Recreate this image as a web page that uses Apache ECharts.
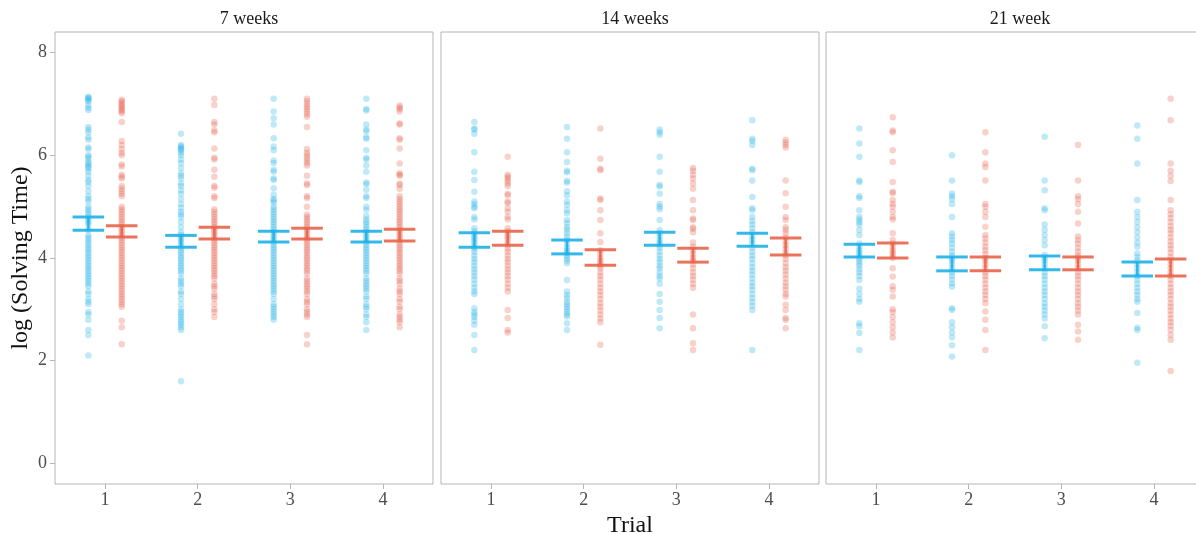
<!DOCTYPE html>
<html>
<head>
<meta charset="utf-8">
<script src="https://cdn.jsdelivr.net/npm/echarts@6/dist/echarts.min.js"></script>
<style>
html,body{margin:0;padding:0;background:#fff;}
#chart{width:1196px;height:534px;}
</style>
</head>
<body>
<div id="chart"></div>
<script>
// ---------- DATA ----------
const panels = ['7 weeks', '14 weeks', '21 week'];
const trials = ['1', '2', '3', '4'];
const yTicks = [0, 2, 4, 6, 8];
const yTitle = 'log (Solving Time)';
const xTitle = 'Trial';

// 7 weeks: individual log solving times (blue group / red group)
const w7_t1_b = [7.14,7.12,7.1,7.08,7.05,6.98,6.92,6.88,6.55,6.5,6.45,6.35,6.3,6.15,6.12,6.0,5.97,5.93,5.87,5.84,5.8,5.77,5.74,5.68,5.6,5.52,5.48,5.4,5.3,5.2,5.15,5.1,5.0,4.95,4.9,4.85,4.8,4.75,4.7,4.65,4.55,4.45,4.4,4.35,4.3,4.25,4.2,4.15,4.1,4.05,4.0,3.95,3.9,3.85,3.8,3.75,3.7,3.65,3.6,3.55,3.5,3.45,3.35,3.3,3.2,3.15,3.1,2.95,2.9,2.8,2.6,2.5,2.1];
const w7_t1_r = [7.08,7.05,7.02,6.98,6.95,6.92,6.88,6.85,6.82,6.65,6.28,6.2,6.12,6.05,6.0,5.82,5.78,5.62,5.58,5.55,5.4,5.35,5.3,5.25,5.2,5.0,4.95,4.9,4.85,4.8,4.75,4.7,4.65,4.6,4.55,4.5,4.45,4.4,4.35,4.3,4.25,4.2,4.15,4.1,4.05,4.0,3.95,3.9,3.85,3.8,3.75,3.7,3.65,3.6,3.55,3.5,3.45,3.4,3.35,3.3,3.25,3.2,3.15,3.1,3.05,2.78,2.65,2.32];
const w7_t2_b = [6.42,6.2,6.17,6.14,6.12,6.1,6.05,6.0,5.92,5.85,5.75,5.65,5.6,5.55,5.45,5.4,5.32,5.25,5.15,5.05,4.98,4.9,4.85,4.8,4.7,4.6,4.5,4.45,4.4,4.35,4.3,4.25,4.2,4.15,4.1,4.05,4.0,3.95,3.9,3.85,3.8,3.75,3.7,3.6,3.55,3.5,3.45,3.35,3.3,3.2,3.1,3.0,2.95,2.9,2.85,2.8,2.75,2.7,2.65,2.6,1.6];
const w7_t2_r = [7.1,6.98,6.65,6.6,6.48,6.45,6.13,5.95,5.92,5.72,5.58,5.4,5.37,5.2,5.17,4.95,4.9,4.85,4.8,4.75,4.7,4.65,4.6,4.55,4.5,4.45,4.4,4.35,4.3,4.25,4.2,4.15,4.1,4.05,4.0,3.95,3.9,3.85,3.8,3.75,3.7,3.65,3.6,3.5,3.45,3.4,3.3,3.25,3.2,3.1,3.0,2.95,2.85];
const w7_t3_b = [7.1,6.85,6.72,6.6,6.33,6.17,6.1,5.9,5.85,5.72,5.68,5.55,5.52,5.36,5.23,5.15,5.12,5.08,5.0,4.95,4.9,4.85,4.8,4.75,4.7,4.65,4.6,4.55,4.5,4.45,4.4,4.35,4.3,4.25,4.2,4.15,4.1,4.05,4.0,3.95,3.9,3.85,3.8,3.75,3.7,3.65,3.6,3.55,3.5,3.45,3.4,3.35,3.3,3.2,3.1,3.05,3.0,2.95,2.9,2.85,2.8];
const w7_t3_r = [7.1,7.05,7.0,6.95,6.9,6.85,6.8,6.75,6.55,6.12,6.05,6.0,5.95,5.9,5.85,5.8,5.6,5.45,5.42,5.2,5.17,5.0,4.84,4.8,4.75,4.7,4.65,4.6,4.55,4.5,4.45,4.4,4.35,4.3,4.25,4.2,4.15,4.1,4.05,4.0,3.95,3.9,3.85,3.8,3.75,3.7,3.6,3.55,3.5,3.45,3.4,3.35,3.3,3.2,3.15,3.1,3.0,2.95,2.9,2.85,2.5,2.32];
const w7_t4_b = [7.1,6.9,6.87,6.6,6.5,6.47,6.35,6.32,6.1,5.95,5.92,5.8,5.68,5.47,5.44,5.33,5.2,5.17,5.0,4.94,4.82,4.75,4.7,4.65,4.6,4.55,4.5,4.45,4.4,4.35,4.3,4.25,4.2,4.15,4.1,4.05,4.0,3.95,3.9,3.85,3.8,3.75,3.7,3.6,3.55,3.5,3.45,3.4,3.35,3.25,3.2,3.1,3.05,3.0,2.9,2.85,2.75,2.6];
const w7_t4_r = [6.97,6.93,6.9,6.85,6.62,6.6,6.33,6.3,6.13,5.84,5.65,5.62,5.6,5.45,5.42,5.35,5.2,5.15,5.1,5.05,5.0,4.95,4.9,4.85,4.8,4.75,4.7,4.65,4.6,4.55,4.5,4.45,4.4,4.35,4.3,4.25,4.2,4.15,4.1,4.05,4.0,3.95,3.9,3.85,3.8,3.75,3.7,3.6,3.55,3.5,3.4,3.35,3.3,3.2,3.15,3.05,3.0,2.9,2.85,2.8,2.75,2.65];

// 14 weeks
const w14_t1_b = [6.65,6.52,6.5,6.42,6.06,5.68,5.52,5.29,5.1,5.05,5.0,4.97,4.8,4.75,4.58,4.52,4.47,4.42,4.38,4.33,4.28,4.22,4.18,4.12,4.05,3.98,3.92,3.85,3.78,3.72,3.65,3.58,3.5,3.42,3.35,3.3,3.02,2.95,2.9,2.85,2.78,2.7,2.5,2.21];
const w14_t1_r = [5.97,5.62,5.58,5.55,5.5,5.45,5.4,5.25,5.22,5.1,5.07,4.97,4.9,4.8,4.75,4.58,4.52,4.47,4.42,4.37,4.3,4.25,4.18,4.12,4.05,3.98,3.92,3.85,3.78,3.72,3.65,3.58,3.5,3.42,3.35,2.99,2.83,2.6,2.55];
const w14_t2_b = [6.55,6.32,6.06,5.87,5.7,5.67,5.5,5.47,5.3,5.22,5.1,5.03,4.93,4.87,4.74,4.68,4.6,4.55,4.48,4.42,4.35,4.28,4.2,4.15,4.1,4.05,4.0,3.95,3.9,3.57,3.35,3.28,3.22,3.15,3.1,3.05,3.0,2.95,2.9,2.86,2.73,2.6];
const w14_t2_r = [6.52,5.93,5.74,5.71,5.16,5.13,4.93,4.74,4.48,4.31,4.15,4.08,4.0,3.95,3.9,3.85,3.8,3.72,3.65,3.58,3.5,3.42,3.35,3.28,3.2,3.12,3.05,2.98,2.9,2.82,2.75,2.31];
const w14_t3_b = [6.5,6.45,6.4,5.97,5.68,5.42,5.39,5.25,5.05,5.0,4.95,4.74,4.54,4.48,4.42,4.35,4.3,4.25,4.2,4.12,4.05,3.98,3.92,3.85,3.8,3.72,3.65,3.6,3.5,3.3,3.15,2.99,2.83,2.63];
const w14_t3_r = [5.75,5.7,5.62,5.55,5.45,5.35,5.13,4.93,4.77,4.74,4.6,4.57,4.5,4.3,4.22,4.15,4.08,4.0,3.95,3.88,3.8,3.72,3.65,3.58,3.5,3.42,2.9,2.63,2.34,2.21];
const w14_t4_b = [6.68,6.32,6.28,6.2,5.74,5.71,5.51,5.19,4.97,4.93,4.8,4.72,4.65,4.58,4.5,4.42,4.35,4.28,4.2,4.12,4.05,3.98,3.9,3.82,3.75,3.68,3.6,3.52,3.45,3.38,3.3,3.22,3.15,3.07,2.99,2.21];
const w14_t4_r = [6.3,6.25,6.2,6.15,5.51,5.26,5.0,4.8,4.74,4.6,4.55,4.48,4.4,4.32,4.25,4.18,4.1,4.05,3.98,3.9,3.82,3.75,3.68,3.6,3.52,3.45,3.38,3.3,3.25,3.09,2.99,2.83,2.8,2.63];

// 21 week
const w21_t1_b = [6.52,6.23,5.97,5.51,5.48,5.2,5.17,4.93,4.8,4.75,4.7,4.65,4.55,4.45,4.28,4.22,4.15,4.1,4.05,4.0,3.95,3.9,3.85,3.78,3.72,3.65,3.57,3.4,3.3,3.2,3.15,2.73,2.67,2.54,2.21];
const w21_t1_r = [6.74,6.48,6.45,6.1,5.87,5.48,5.29,5.26,5.13,5.05,5.0,4.9,4.8,4.75,4.48,4.35,4.28,4.22,4.15,4.1,4.05,4.0,3.8,3.64,3.45,3.38,3.25,3.0,2.95,2.85,2.75,2.65,2.55,2.45];
const w21_t2_b = [6.0,5.51,5.25,5.2,5.15,5.05,4.8,4.48,4.42,4.35,4.28,4.2,4.12,4.05,4.0,3.95,3.88,3.8,3.72,3.65,3.58,3.5,3.44,3.02,2.99,2.75,2.65,2.55,2.45,2.3,2.08];
const w21_t2_r = [6.45,6.06,5.84,5.77,5.51,5.05,5.0,4.9,4.8,4.61,4.45,4.38,4.3,4.22,4.15,4.08,4.0,3.95,3.88,3.8,3.72,3.65,3.58,3.5,3.42,3.35,3.28,3.2,3.12,2.96,2.8,2.6,2.21];
const w21_t3_b = [6.36,5.51,5.32,4.97,4.93,4.65,4.55,4.45,4.35,4.25,4.06,4.0,3.95,3.88,3.8,3.72,3.65,3.58,3.5,3.42,3.35,3.28,3.2,3.12,3.05,2.98,2.9,2.82,2.67,2.44];
const w21_t3_r = [6.2,5.51,5.2,5.15,5.05,4.9,4.67,4.42,4.35,4.28,4.2,4.12,4.05,4.0,3.95,3.88,3.8,3.72,3.65,3.58,3.5,3.42,3.35,3.28,3.2,3.12,3.05,2.98,2.9,2.7,2.57,2.41];
const w21_t4_b = [6.58,6.32,5.84,5.13,4.9,4.8,4.7,4.6,4.5,4.4,4.3,4.22,4.09,4.02,3.95,3.88,3.8,3.72,3.65,3.58,3.5,3.42,3.35,3.28,3.2,3.15,2.93,2.64,2.6,1.96];
const w21_t4_r = [7.1,6.68,5.84,5.7,5.6,5.5,5.13,4.93,4.85,4.78,4.7,4.62,4.55,4.48,4.4,4.32,4.25,4.18,4.1,4.02,3.95,3.88,3.8,3.72,3.65,3.58,3.5,3.42,3.35,3.28,3.2,3.12,3.05,2.98,2.9,2.82,2.75,2.68,2.6,2.5,2.41,1.8];

// Error bars (lower / upper) per trial
const w7_blueLow  = [4.54, 4.21, 4.31, 4.31];
const w7_blueHigh = [4.80, 4.44, 4.52, 4.52];
const w7_redLow   = [4.41, 4.37, 4.37, 4.33];
const w7_redHigh  = [4.63, 4.60, 4.58, 4.56];
const w14_blueLow  = [4.21, 4.08, 4.25, 4.23];
const w14_blueHigh = [4.49, 4.35, 4.50, 4.48];
const w14_redLow   = [4.25, 3.86, 3.92, 4.06];
const w14_redHigh  = [4.52, 4.16, 4.19, 4.39];
const w21_blueLow  = [4.02, 3.75, 3.77, 3.65];
const w21_blueHigh = [4.27, 4.02, 4.04, 3.92];
const w21_redLow   = [4.00, 3.75, 3.77, 3.65];
const w21_redHigh  = [4.29, 4.02, 4.02, 3.98];

// ---------- BUILD ----------
const bluePts = [[w7_t1_b,w7_t2_b,w7_t3_b,w7_t4_b],[w14_t1_b,w14_t2_b,w14_t3_b,w14_t4_b],[w21_t1_b,w21_t2_b,w21_t3_b,w21_t4_b]];
const redPts  = [[w7_t1_r,w7_t2_r,w7_t3_r,w7_t4_r],[w14_t1_r,w14_t2_r,w14_t3_r,w14_t4_r],[w21_t1_r,w21_t2_r,w21_t3_r,w21_t4_r]];
const blueErr = [[w7_blueLow,w7_blueHigh],[w14_blueLow,w14_blueHigh],[w21_blueLow,w21_blueHigh]];
const redErr  = [[w7_redLow,w7_redHigh],[w14_redLow,w14_redHigh],[w21_redLow,w21_redHigh]];

const DODGE = 0.18, HALF = 0.17;
const BLUE_PT = 'rgba(38,178,230,0.36)', RED_PT = 'rgba(232,98,76,0.36)';
const BLUE_BAR = 'rgba(30,176,232,0.9)', RED_BAR = 'rgba(232,100,74,0.9)';
const SERIF = '"Liberation Serif","DejaVu Serif",serif';

const gridLefts = [55, 441, 826];
const gridWidth = 378;

const grids = [], xAxes = [], yAxes = [], series = [], titles = [];

function errRender(color) {
  return function (params, api) {
    const x = api.value(0), lo = api.value(1), hi = api.value(2);
    const a = api.coord([x - HALF, hi]), b = api.coord([x + HALF, hi]);
    const c = api.coord([x - HALF, lo]), d = api.coord([x + HALF, lo]);
    const m1 = api.coord([x, hi]), m2 = api.coord([x, lo]);
    const st = { stroke: color, lineWidth: 3 };
    return { type: 'group', children: [
      { type: 'line', shape: { x1: a[0], y1: a[1], x2: b[0], y2: b[1] }, style: st },
      { type: 'line', shape: { x1: c[0], y1: c[1], x2: d[0], y2: d[1] }, style: st },
      { type: 'line', shape: { x1: m1[0], y1: m1[1], x2: m2[0], y2: m2[1] }, style: { stroke: color, lineWidth: 2.5 } }
    ]};
  };
}

panels.forEach((name, p) => {
  grids.push({ left: gridLefts[p], top: 32, width: gridWidth, height: 452, show: true,
    borderColor: '#b5b5b5', borderWidth: 1, backgroundColor: '#fff',
    containLabel: false, outerBoundsMode: 'none' });
  xAxes.push({
    type: 'value', gridIndex: p, min: 0.46, max: 4.54, position: 'bottom',
    axisLine: { show: false, onZero: false }, splitLine: { show: false },
    axisTick: { show: true, length: 5, lineStyle: { color: '#b5b5b5' }, customValues: [1, 2, 3, 4] },
    axisLabel: { customValues: [1, 2, 3, 4], formatter: v => trials[Math.round(v) - 1],
      fontFamily: SERIF, fontSize: 18, color: '#4d4d4d', margin: 7 },
    name: p === 1 ? xTitle : '', nameLocation: 'middle', nameGap: 22,
    nameTextStyle: { fontFamily: SERIF, fontSize: 24, color: '#111' }
  });
  yAxes.push({
    type: 'value', gridIndex: p, min: -0.4, max: 8.4, position: 'left',
    axisLine: { show: false, onZero: false }, splitLine: { show: false },
    axisTick: { show: p === 0, length: 5, lineStyle: { color: '#b5b5b5' }, customValues: yTicks },
    axisLabel: { show: p === 0, customValues: yTicks, fontFamily: SERIF, fontSize: 18, color: '#4d4d4d', margin: 8 },
    name: p === 0 ? yTitle : '', nameLocation: 'middle', nameRotate: 90, nameGap: 22,
    nameTextStyle: { fontFamily: SERIF, fontSize: 24, color: '#111' }
  });
  titles.push({ text: name, left: gridLefts[p] + gridWidth / 2, top: 5, textAlign: 'center',
    textStyle: { fontFamily: SERIF, fontSize: 18, fontWeight: 'normal', color: '#1a1a1a' } });

  const bData = [], rData = [], beData = [], reData = [];
  for (let t = 0; t < trials.length; t++) {
    bluePts[p][t].forEach(v => bData.push([t + 1 - DODGE, v]));
    redPts[p][t].forEach(v => rData.push([t + 1 + DODGE, v]));
    beData.push([t + 1 - DODGE, blueErr[p][0][t], blueErr[p][1][t]]);
    reData.push([t + 1 + DODGE, redErr[p][0][t], redErr[p][1][t]]);
  }
  series.push({ type: 'scatter', name: 'Group A', xAxisIndex: p, yAxisIndex: p, data: bData,
    symbolSize: 6.5, itemStyle: { color: BLUE_PT }, silent: true, z: 2 });
  series.push({ type: 'scatter', name: 'Group B', xAxisIndex: p, yAxisIndex: p, data: rData,
    symbolSize: 6.5, itemStyle: { color: RED_PT }, silent: true, z: 2 });
  series.push({ type: 'custom', xAxisIndex: p, yAxisIndex: p, data: beData,
    renderItem: errRender(BLUE_BAR), encode: { x: 0, y: [1, 2] }, z: 3, silent: true });
  series.push({ type: 'custom', xAxisIndex: p, yAxisIndex: p, data: reData,
    renderItem: errRender(RED_BAR), encode: { x: 0, y: [1, 2] }, z: 3, silent: true });
});

const chart = echarts.init(document.getElementById('chart'), null, { renderer: 'canvas' });
chart.setOption({
  backgroundColor: '#fff',
  animation: false,
  title: titles,
  grid: grids,
  xAxis: xAxes,
  yAxis: yAxes,
  series: series
});
</script>
</body>
</html>
